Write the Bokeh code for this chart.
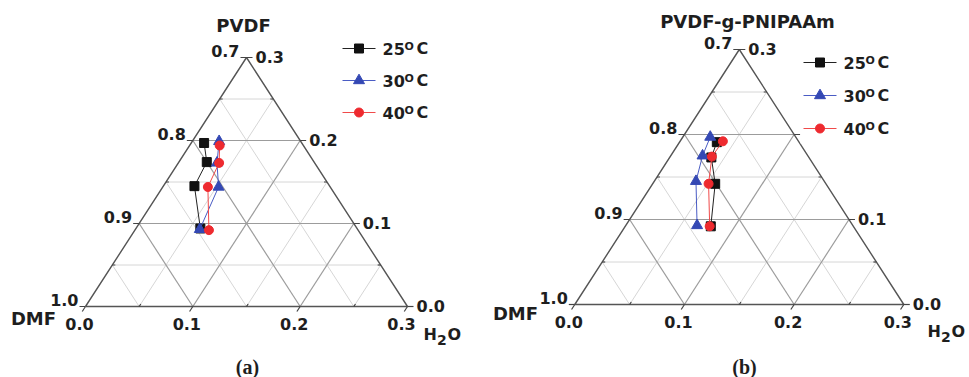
import math
from bokeh.plotting import figure
from bokeh.layouts import row
from bokeh.models import Range1d
from bokeh.core.properties import value
from bokeh.embed import file_html
from bokeh.resources import INLINE

# ---------------- data (mass fractions) ----------------
temperatures = ["25", "30", "40"]
series_colors = ["#111111", "#3448b4", "#ee2a2f"]
line_colors = ["#222222", "#4a5cc4", "#f04a4a"]
series_markers = ["square", "triangle", "circle"]

# panel (a): PVDF / DMF / H2O
a_pvdf_25 = [0.197, 0.174, 0.145, 0.094]
a_h2o_25 = [0.012, 0.026, 0.029, 0.060]
a_pvdf_30 = [0.199, 0.173, 0.144, 0.093]
a_h2o_30 = [0.025, 0.036, 0.052, 0.060]
a_pvdf_40 = [0.194, 0.173, 0.144, 0.092]
a_h2o_40 = [0.028, 0.038, 0.042, 0.069]

# panel (b): PVDF-g-PNIPAAm / DMF / H2O
b_pvdf_25 = [0.191, 0.173, 0.142, 0.092]
b_h2o_25 = [0.034, 0.038, 0.057, 0.078]
b_pvdf_30 = [0.197, 0.175, 0.145, 0.093]
b_h2o_30 = [0.025, 0.029, 0.038, 0.065]
b_pvdf_40 = [0.192, 0.174, 0.142, 0.092]
b_h2o_40 = [0.039, 0.038, 0.051, 0.077]

left_ticks = [1.0, 0.9, 0.8, 0.7]     # DMF along the left edge
right_ticks = [0.0, 0.1, 0.2, 0.3]    # polymer along the right edge
bottom_ticks = [0.0, 0.1, 0.2, 0.3]   # H2O along the bottom edge
grid_steps = [0.05, 0.10, 0.15, 0.20, 0.25]
SPAN = 0.3

FONT = value("DejaVu Sans")
SERIF = value("Liberation Serif")
TXT = "#1e1e1e"


def panel(geo, top_title, tag, pvdf_series, h2o_series):
    W, H = geo["W"], geo["H"]
    ox, oy, sx, sy = geo["ox"], geo["oy"], geo["sx"], geo["sy"]
    p = figure(width=W, height=H, output_backend="svg", toolbar_location=None,
               x_range=Range1d(-ox / sx, (W - ox) / sx),
               y_range=Range1d(-(H - oy) / sy, oy / sy),
               x_axis_type=None, y_axis_type=None, min_border=0)
    p.outline_line_color = None
    p.grid.visible = False
    p.background_fill_color = "white"
    p.border_fill_color = "white"

    def T(pv, hw):
        return hw + pv / 2.0, pv

    def P(px, py):
        return (px - ox) / sx, (oy - py) / sy

    def off(pt, dpx, dpy):
        return pt[0] + dpx / sx, pt[1] - dpy / sy

    # grid lines
    for major in (False, True):
        xs, ys = [], []
        for v in grid_steps:
            is_major = abs(v * 10 - round(v * 10)) < 1e-9
            if is_major != major:
                continue
            for a, b in ((T(v, 0), T(v, SPAN - v)),
                         (T(0, v), T(SPAN - v, v)),
                         (T(0, v), T(v, 0))):
                xs.append([a[0], b[0]])
                ys.append([a[1], b[1]])
        p.multi_line(xs, ys, line_color="#9c9c9c" if major else "#d6d6d6",
                     line_width=1.2 if major else 1.0)

    # triangle edges
    cs = [T(0, 0), T(0, SPAN), T(SPAN, 0), T(0, 0)]
    p.line([c[0] for c in cs], [c[1] for c in cs], line_color="#555555", line_width=1.4)

    # ticks
    L = math.hypot(0.15 * sx, 0.3 * sy)
    bdx, bdy = -0.15 * sx / L, 0.3 * sy / L   # pixel direction down-left
    txs, tys = [], []
    for d in left_ticks:
        a = T(1 - d, 0); b = off(a, -6, 0)
        txs.append([a[0], b[0]]); tys.append([a[1], b[1]])
    for v in right_ticks:
        a = T(v, SPAN - v); b = off(a, 6, 0)
        txs.append([a[0], b[0]]); tys.append([a[1], b[1]])
    for v in bottom_ticks:
        a = T(0, v); b = off(a, 6 * bdx, 6 * bdy)
        txs.append([a[0], b[0]]); tys.append([a[1], b[1]])
    for v in (0.05, 0.15, 0.25):
        a = T(v, 0); b = off(a, 3, 0)
        txs.append([a[0], b[0]]); tys.append([a[1], b[1]])
        a = T(v, SPAN - v); b = off(a, -3, 0)
        txs.append([a[0], b[0]]); tys.append([a[1], b[1]])
        a = T(0, v); b = off(a, -3 * bdx, -3 * bdy)
        txs.append([a[0], b[0]]); tys.append([a[1], b[1]])
    p.multi_line(txs, tys, line_color="#444444", line_width=1.2)

    # tick labels
    lp = [off(T(1 - d, 0), -7, -7) for d in left_ticks]
    p.text([q[0] for q in lp], [q[1] for q in lp], text=["%.1f" % d for d in left_ticks],
           text_font=FONT, text_font_style="bold", text_font_size="16px", text_color=TXT,
           text_align="right", text_baseline="middle")
    rp = [off(T(v, SPAN - v), 9, -1) for v in right_ticks]
    p.text([q[0] for q in rp], [q[1] for q in rp], text=["%.1f" % v for v in right_ticks],
           text_font=FONT, text_font_style="bold", text_font_size="16px", text_color=TXT,
           text_align="left", text_baseline="middle")
    bp = [off(T(0, v), -6, 17) for v in bottom_ticks]
    p.text([q[0] for q in bp], [q[1] for q in bp], text=["%.1f" % v for v in bottom_ticks],
           text_font=FONT, text_font_style="bold", text_font_size="16px", text_color=TXT,
           text_align="center", text_baseline="middle")

    # axis titles
    tx, ty = P(*geo["title"])
    p.text([tx], [ty], text=[top_title], text_font=FONT, text_font_style="bold",
           text_font_size="18px", text_color=TXT, text_align="center", text_baseline="middle")
    dx_, dy_ = P(*geo["dmf"])
    p.text([dx_], [dy_], text=["DMF"], text_font=FONT, text_font_style="bold",
           text_font_size="18px", text_color=TXT, text_align="center", text_baseline="middle")
    hx, hy = geo["h2o"]
    for s, ddx, ddy, fs in (("H", 0, 0, "16px"), ("2", 13.5, 5, "14px"), ("O", 24, 0, "16px")):
        q = P(hx + ddx, hy + ddy)
        p.text([q[0]], [q[1]], text=[s], text_font=FONT, text_font_style="bold",
               text_font_size=fs, text_color=TXT, text_align="left", text_baseline="middle")
    gx, gy = P(*geo["tag"])
    p.text([gx], [gy], text=[tag], text_font=SERIF, text_font_style="bold",
           text_font_size="20px", text_color=TXT, text_align="center", text_baseline="middle")

    # series
    sizes = {"square": 9, "triangle": 11, "circle": 9}
    for pv, hw, c, lc, m in zip(pvdf_series, h2o_series, series_colors, line_colors, series_markers):
        xs = [h + v / 2.0 for v, h in zip(pv, hw)]
        ys = list(pv)
        p.line(xs, ys, line_color=lc, line_width=1.0)
        p.scatter(xs, ys, marker=m, size=sizes[m], fill_color=c, line_color=c)

    # legend (white box behind, as in the original)
    lx, ly, ldy = geo["legend"]
    b0 = P(lx - 3, ly - 15)
    b1 = P(lx + 98, ly + 2 * ldy + 15)
    p.quad(left=[b0[0]], right=[b1[0]], top=[b0[1]], bottom=[b1[1]],
           fill_color="white", line_color=None)
    for i, (t, c, lc, m) in enumerate(zip(temperatures, series_colors, line_colors, series_markers)):
        yy = ly + i * ldy
        a = P(lx, yy); b = P(lx + 33, yy); mm = P(lx + 16.5, yy)
        p.line([a[0], b[0]], [a[1], b[1]], line_color=lc, line_width=1.0)
        p.scatter([mm[0]], [mm[1]], marker=m, size=sizes[m], fill_color=c, line_color=c)
        for s, ddx, ddy, fs in ((t, 40, 0, "16px"), ("O", 62, -2.5, "11px"), ("C", 74, 0, "16px")):
            q = P(lx + ddx, yy + ddy)
            p.text([q[0]], [q[1]], text=[s], text_font=FONT, text_font_style="bold",
                   text_font_size=fs, text_color=TXT, text_align="left", text_baseline="middle")
    return p


geo_a = dict(W=484, H=377, ox=85.0, oy=306.0, sx=322 / 0.3, sy=249 / 0.3,
             title=(243, 25), dmf=(33, 318), h2o=(423, 334), tag=(247, 366),
             legend=(342, 48, 32))
geo_b = dict(W=485, H=377, ox=574.3 - 484, oy=304.0, sx=329 / 0.3, sy=255 / 0.3,
             title=(747 - 484, 21), dmf=(515 - 484, 313), h2o=(927 - 484, 331),
             tag=(744 - 484, 366), legend=(803 - 484, 62, 33))

pa = panel(geo_a, "PVDF", "(a)",
           [a_pvdf_25, a_pvdf_30, a_pvdf_40], [a_h2o_25, a_h2o_30, a_h2o_40])
pb = panel(geo_b, "PVDF-g-PNIPAAm", "(b)",
           [b_pvdf_25, b_pvdf_30, b_pvdf_40], [b_h2o_25, b_h2o_30, b_h2o_40])

layout = row(pa, pb)
open("out.html", "w").write(file_html(layout, INLINE))
